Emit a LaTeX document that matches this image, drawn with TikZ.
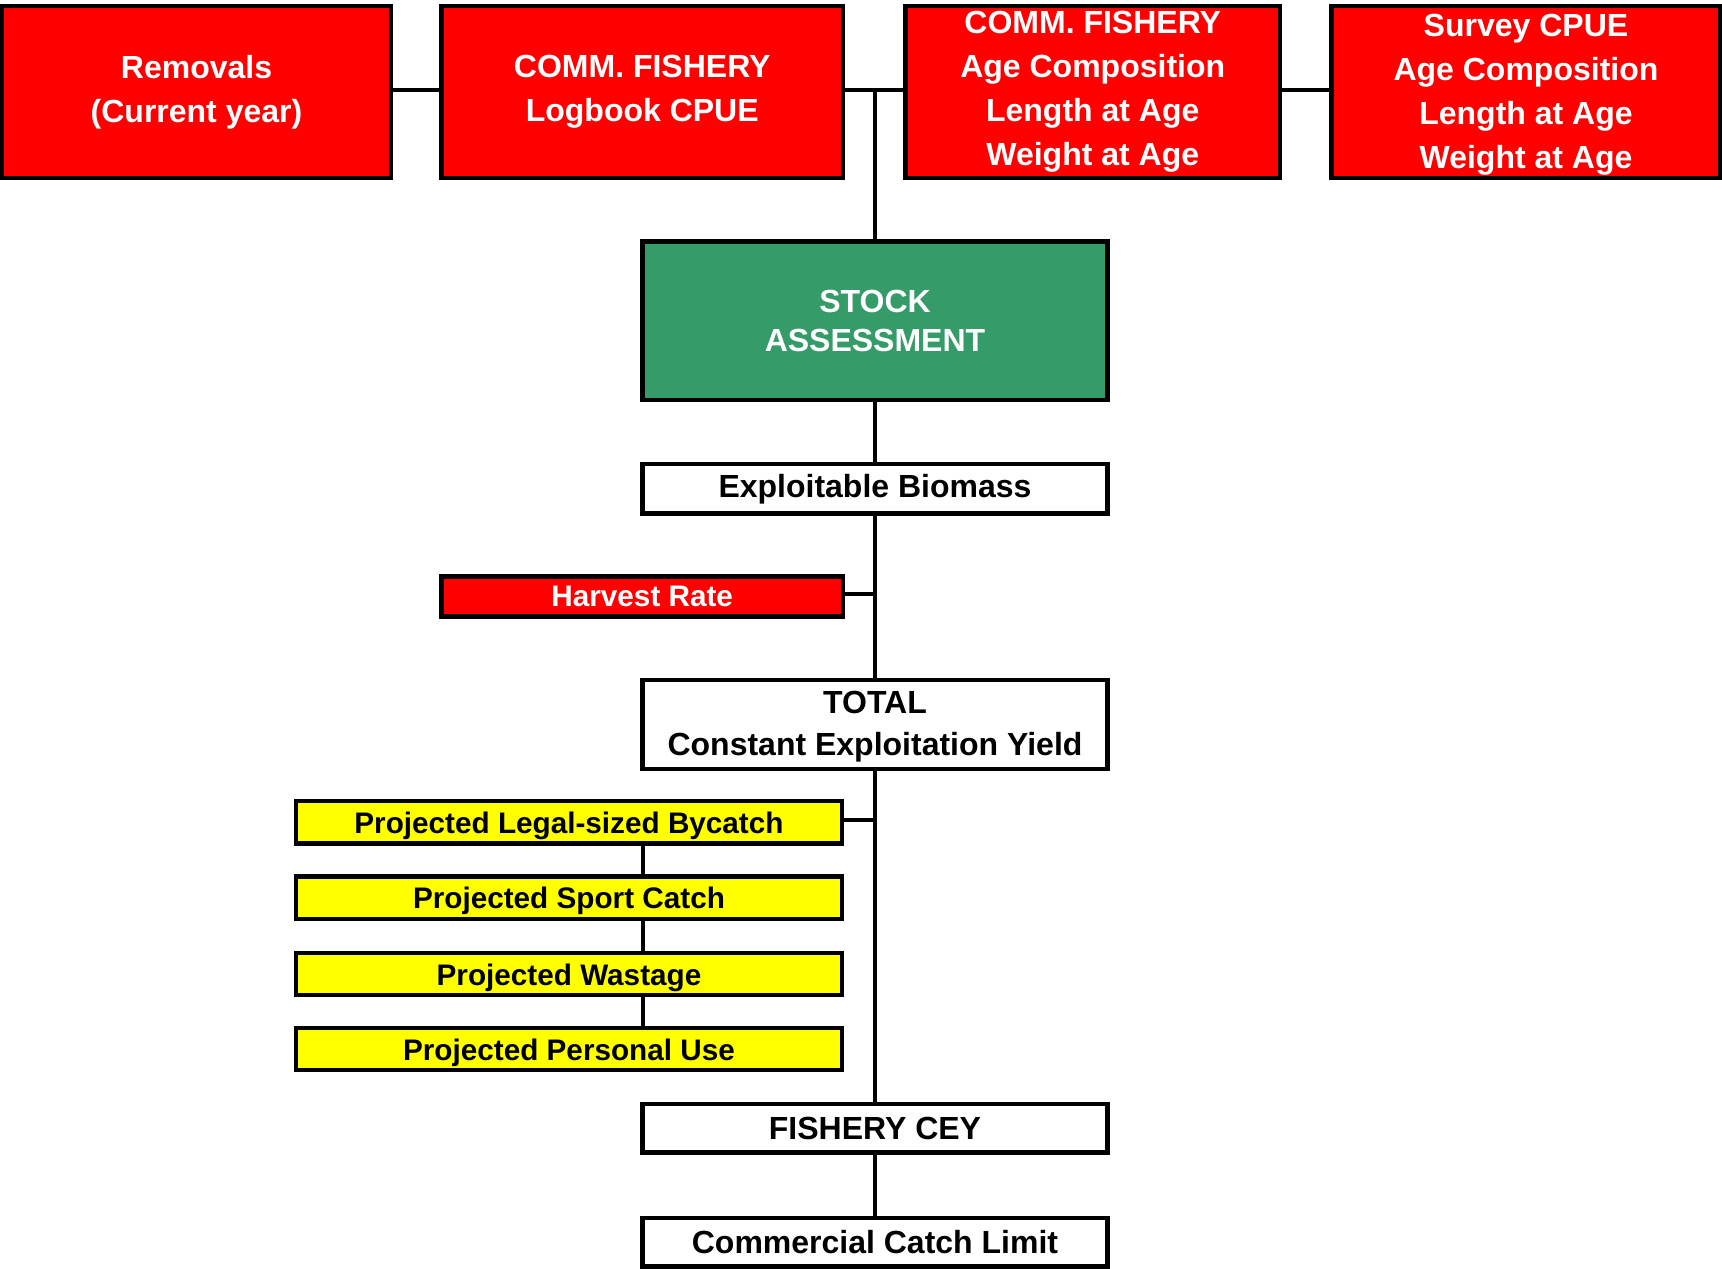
\documentclass[tikz,border=0pt]{standalone}
\usepackage{fontspec}
\setmainfont{Liberation Sans}
\definecolor{boxred}{RGB}{255,0,0}
\definecolor{boxgreen}{RGB}{53,155,104}
\definecolor{boxyellow}{RGB}{255,255,0}
\begin{document}
\begin{tikzpicture}[x=1pt,y=-1pt,
  box/.style={draw=black,line width=4.5pt,rectangle,inner sep=0pt,outer sep=0pt,align=center,
    font=\bfseries\fontsize{32}{44}\selectfont},
  redbox/.style={box,fill=boxred,text=white},
  greenbox/.style={box,fill=boxgreen,text=white,font=\bfseries\fontsize{32}{39}\selectfont},
  whitebox/.style={box,fill=white,text=black},
  yellowbox/.style={box,fill=boxyellow,text=black,minimum width=546pt,
    font=\bfseries\fontsize{29.7}{36}\selectfont,text height=22.5pt,text depth=0pt},
  conn/.style={draw=black,line width=4pt}]
\useasboundingbox (0,0) rectangle (1722,1269);

\node[redbox,minimum width=389pt,minimum height=172pt] (b1) at (196.5,92) {Removals\\(Current year)};
\node[redbox,minimum width=401.5pt,minimum height=172pt] (b2) at (642.25,92) {COMM. FISHERY\\Logbook CPUE};
\node[redbox,minimum width=374.5pt,minimum height=172pt] (b3) at (1092.75,92) {COMM. FISHERY\\Age Composition\\Length at Age\\Weight at Age};
\node[redbox,minimum width=389pt,minimum height=172pt,text depth=2pt] (b4) at (1526,92) {Survey CPUE\\Age Composition\\Length at Age\\Weight at Age};

\node[greenbox,minimum width=465pt,minimum height=158.5pt] (stock) at (875,320.75) {STOCK\\ASSESSMENT};
\node[whitebox,minimum width=465pt,minimum height=49.5pt] (expl) at (875,488.75) {Exploitable Biomass};
\node[redbox,minimum width=401.5pt,minimum height=40pt,font=\bfseries\fontsize{29.7}{36}\selectfont] (harv) at (642.25,596.5) {Harvest Rate};
\node[whitebox,minimum width=465pt,minimum height=89pt,font=\bfseries\fontsize{32}{42}\selectfont,text depth=2pt] (total) at (875,724.5) {TOTAL\\Constant Exploitation Yield};

\node[yellowbox,minimum height=42.7pt] (y1) at (569,822.35) {Projected Legal-sized Bycatch};
\node[yellowbox,minimum height=42.7pt] (y2) at (569,897.65) {Projected Sport Catch};
\node[yellowbox,minimum height=42.2pt] (y3) at (569,973.9) {Projected Wastage};
\node[yellowbox,minimum height=42pt] (y4) at (569,1049) {Projected Personal Use};

\node[whitebox,minimum width=465pt,minimum height=48.5pt] (cey) at (875,1128.25) {FISHERY CEY};
\node[whitebox,minimum width=465pt,minimum height=48.5pt] (ccl) at (875,1242.25) {Commercial Catch Limit};

\coordinate (hy) at (0,90);
\coordinate (j) at (874.5,90);
\coordinate (hr) at (874.5,593.5);
\coordinate (bc) at (874.5,820);
\coordinate (yx) at (642.5,0);

\draw[conn] (b1.east |- hy) -- (b2.west |- hy);
\draw[conn] (b2.east |- hy) -- (b3.west |- hy);
\draw[conn] (b3.east |- hy) -- (b4.west |- hy);
\draw[conn] (j) -- (stock.north -| j);
\draw[conn] (stock.south -| j) -- (expl.north -| j);
\draw[conn] (expl.south -| j) -- (total.north -| j);
\draw[conn] (harv.east |- hr) -- (hr);
\draw[conn] (total.south -| j) -- (cey.north -| j);
\draw[conn] (cey.south -| j) -- (ccl.north -| j);
\draw[conn] (y1.east |- bc) -- (bc);
\draw[conn] (y1.south -| yx) -- (y2.north -| yx);
\draw[conn] (y2.south -| yx) -- (y3.north -| yx);
\draw[conn] (y3.south -| yx) -- (y4.north -| yx);
\end{tikzpicture}
\end{document}
